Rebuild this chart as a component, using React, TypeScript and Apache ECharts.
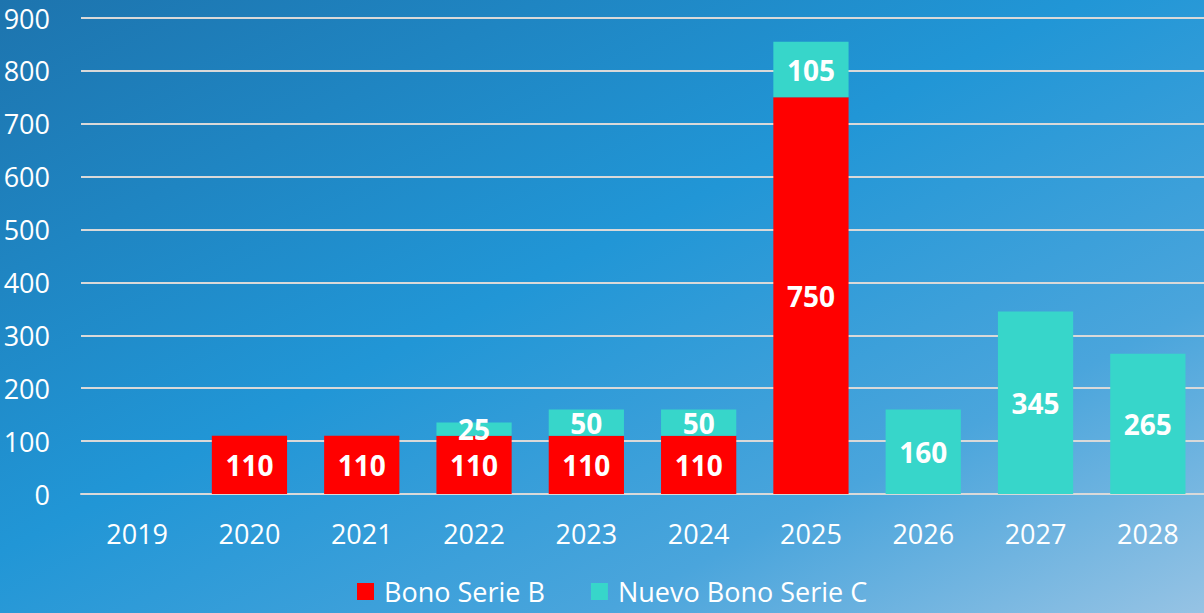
import React, { useEffect, useRef } from "react";
import * as echarts from "echarts";

const categories = ["2019", "2020", "2021", "2022", "2023", "2024", "2025", "2026", "2027", "2028"];
const serieB: (number | string)[] = ["-", 110, 110, 110, 110, 110, 750, "-", "-", "-"];
const serieC: (number | string)[] = ["-", "-", "-", 25, 50, 50, 105, 160, 345, 265];
const seriesNames = ["Bono Serie B", "Nuevo Bono Serie C"];
const yTicks = { min: 0, max: 900, interval: 100 };

const FONT = "'Open Sans', 'Noto Sans', sans-serif";

export default function App() {
  const ref = useRef<HTMLDivElement>(null);
  useEffect(() => {
    if (!ref.current) return;
    const chart = echarts.init(ref.current, undefined, { renderer: "svg" });
    const label = {
      show: true,
      position: "inside",
      color: "#ffffff",
      fontWeight: "bold",
      fontSize: 28,
      fontFamily: FONT,
    };
    chart.setOption({
      animation: false,
      backgroundColor: new echarts.graphic.LinearGradient(0, 0, 1, 1, [
        { offset: 0, color: "#1d74ae" },
        { offset: 0.45, color: "#2196d6" },
        { offset: 0.75, color: "#4aa5dc" },
        { offset: 1, color: "#96c3e4" },
      ]),
      grid: { left: 81, right: 0, top: 18, bottom: 119, containLabel: false },
      legend: {
        top: 578,
        left: 357,
        padding: 0,
        itemWidth: 17,
        itemHeight: 17,
        itemGap: 46,
        icon: "rect",
        textStyle: { color: "#ffffff", fontSize: 27, fontFamily: FONT, padding: [0, 0, 0, 5] },
        data: seriesNames,
      },
      xAxis: {
        type: "category",
        data: categories,
        axisLine: { show: true, lineStyle: { color: "#d9d9d9", width: 2 } },
        axisTick: { show: false },
        axisLabel: { color: "#ffffff", fontSize: 27, fontFamily: FONT, margin: 26 },
      },
      yAxis: {
        type: "value",
        min: yTicks.min,
        max: yTicks.max,
        interval: yTicks.interval,
        axisLine: { show: false },
        axisTick: { show: false },
        splitLine: { lineStyle: { color: "#d9d9d9", width: 2 } },
        axisLabel: { color: "#ffffff", fontSize: 27, fontFamily: FONT, margin: 31 },
      },
      series: [
        {
          name: seriesNames[0],
          type: "bar",
          stack: "total",
          data: serieB,
          barWidth: "67%",
          itemStyle: { color: "#ff0000" },
          label,
        },
        {
          name: seriesNames[1],
          type: "bar",
          stack: "total",
          data: serieC,
          barWidth: "67%",
          itemStyle: { color: "#37d6ca" },
          label,
        },
      ],
    });
    return () => chart.dispose();
  }, []);
  return (
    <div
      ref={ref}
      style={{ position: "fixed", left: 0, top: 0, width: 1204, height: 613 }}
    />
  );
}
